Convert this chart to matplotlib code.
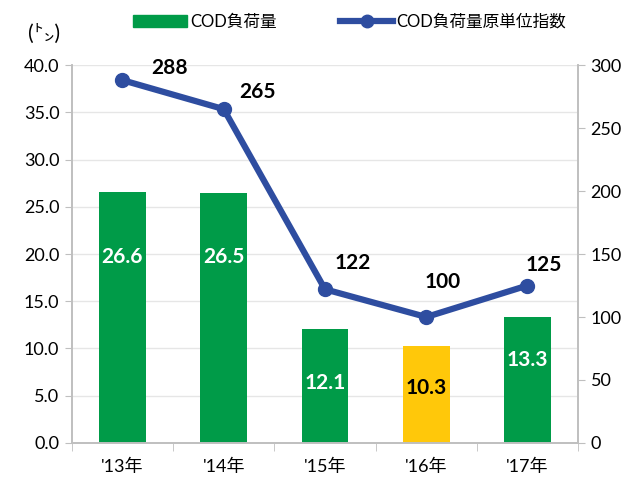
import matplotlib
matplotlib.use("Agg")
import matplotlib.pyplot as plt
from matplotlib.lines import Line2D
from matplotlib.patches import Patch

plt.rcParams['font.family'] = ['Lato', 'Noto Sans CJK JP', 'DejaVu Sans']

years = ["'13年", "'14年", "'15年", "'16年", "'17年"]
cod_load = [26.6, 26.5, 12.1, 10.3, 13.3]
unit_index = [288, 265, 122, 100, 125]
bar_colors = ["#009B48", "#009B48", "#009B48", "#FFC80A", "#009B48"]
label_colors = ["white", "white", "white", "black", "white"]
# where the value labels sit inside the bars
bar_label_y = [19.7, 19.7, 6.3, 5.8, 8.8]
# offsets (points) of the index labels from their markers
line_label_off = [(34, 9), (24, 12), (20, 19), (12, 25), (12, 15)]

GREEN = "#009B48"
BLUE = "#2E4DA0"
GRAY = "#BFBFBF"

fig = plt.figure(figsize=(6.36, 4.79), dpi=100)
ax = fig.add_axes([0.113, 0.0752, 0.796, 0.789])
ax2 = ax.twinx()

x = list(range(len(years)))
ax.yaxis.grid(True, color="#E6E6E6", linewidth=1.0, zorder=0)
ax.set_axisbelow(True)
ax.bar(x, cod_load, width=0.46, color=bar_colors, zorder=2)
for xi, v, ly, c in zip(x, cod_load, bar_label_y, label_colors):
    ax.text(xi, ly, f"{v:.1f}", ha="center", va="center", color=c,
            fontsize=15, fontweight="bold", zorder=3)

ax2.plot(x, unit_index, color=BLUE, linewidth=4.5, marker="o", markersize=10,
         zorder=4)
for xi, v, off in zip(x, unit_index, line_label_off):
    ax2.annotate(str(v), (xi, v), xytext=off, textcoords="offset points",
                 ha="center", va="center", fontsize=15, fontweight="bold",
                 color="black")

ax.set_xlim(-0.5, 4.5)
ax.set_ylim(0, 40)
ax2.set_ylim(0, 300)
ax.set_yticks([0, 5, 10, 15, 20, 25, 30, 35, 40])
ax.set_yticklabels([f"{t:.1f}" for t in ax.get_yticks()])
ax2.set_yticks([0, 50, 100, 150, 200, 250, 300])

ax.set_xticks(x)
ax.set_xticklabels(years)
ax.set_xticks([i - 0.5 for i in range(len(years) + 1)], minor=True)
ax.tick_params(axis="x", which="major", length=0, labelsize=13, pad=11)
ax.tick_params(axis="x", which="minor", length=6, color=GRAY)
ax.tick_params(axis="y", length=5, color=GRAY, labelsize=13, pad=4)
ax2.tick_params(axis="y", length=5, color=GRAY, labelsize=13, pad=4)

for a in (ax, ax2):
    a.spines["top"].set_visible(False)
    for s in ("left", "right", "bottom"):
        a.spines[s].set_color(GRAY)
        a.spines[s].set_linewidth(1.2)

fig.text(0.07, 0.93, "(㌧)", fontsize=15, ha="center", va="center")

handles = [Patch(color=GREEN, label="COD負荷量"),
           Line2D([0], [0], color=BLUE, linewidth=4.5, marker="o",
                  markersize=9, label="COD負荷量原単位指数")]
fig.legend(handles=handles, loc="center", bbox_to_anchor=(0.55, 0.955),
           ncol=2, frameon=False, fontsize=12, handlelength=3.2,
           columnspacing=3.8, handletextpad=0.2)

fig.savefig("out.png", dpi=100)
